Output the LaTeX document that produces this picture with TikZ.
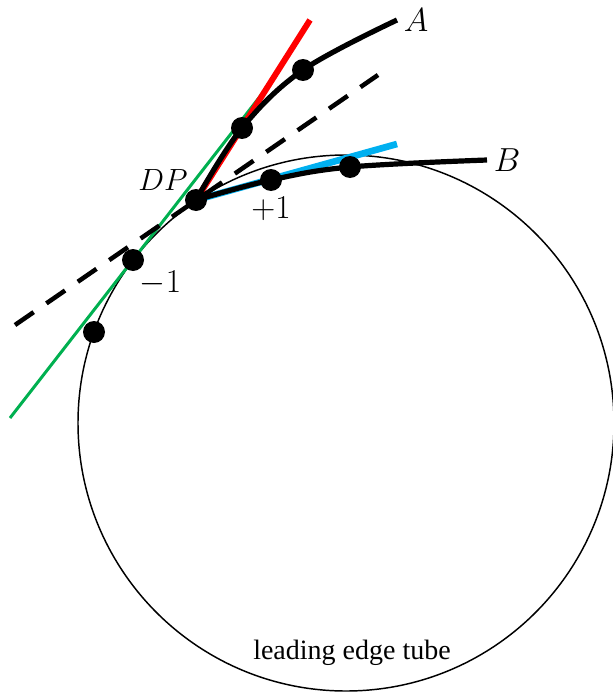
\documentclass[tikz,border=0pt]{standalone}
\usepackage{fix-cm}
\usepackage{fontspec}
\setmainfont{Liberation Serif}
\usepackage{tikz}
\usetikzlibrary{positioning,backgrounds}
\definecolor{tgreen}{RGB}{0,176,80}
\definecolor{tblue}{RGB}{0,176,240}

\begin{document}
\begin{tikzpicture}[x=0.75pt,y=-0.75pt,
dot/.style={circle,fill=black,inner sep=0pt,minimum size=16.5pt},
curve/.style={line width=3.9pt},
lbl/.style={font=\fontsize{23}{26}\selectfont,inner sep=1pt},
num/.style={font=\fontsize{25}{28}\selectfont,inner sep=1pt}]
\useasboundingbox (0,0) rectangle (613,692);
% points on the tube and on the two lines
\node[dot] (dp) at (196,200) {};
\node[dot] (m1) at (133,260) {};
\node[dot] (m2) at (94,332) {};
\node[dot] (a1) at (242,128) {};
\node[dot] (a2) at (303,70) {};
\node[dot] (p1) at (271,180) {};
\node[dot] (b1) at (350,167) {};
\coordinate (aend) at (397,20);
\coordinate (bend) at (487,160);
\coordinate (redend) at (310,20);
\coordinate (blueend) at (397,144);
\coordinate (glo) at (10,418);
\coordinate (ghi) at (265,90);
\coordinate (dlo) at (15,325);
\coordinate (dhi) at (378,75);
\begin{scope}[on background layer]
\draw[line width=1.1pt] (346,423) circle[radius=268];
\draw[tgreen,line width=2.25pt] (glo) -- (ghi);
\draw[red,line width=4.5pt] (dp.center) -- (redend);
\draw[tblue,line width=5pt] (dp.center) -- (blueend);
\draw[line width=3.4pt,dash pattern=on 17pt off 11.6pt] (dlo) -- (dhi);
\draw[curve] plot[smooth,tension=0.6] coordinates {(dp.center) (a1.center) (a2.center) (aend)};
\draw[curve] plot[smooth,tension=0.6] coordinates {(dp.center) (p1.center) (b1.center) (bend)};
\end{scope}
% labels
\node[num,right=4pt of aend] (la) {$A$};
\node[num,right=4pt of bend] (lb) {$B$};
\node[lbl,above left=0pt and -1pt of dp] (ldp) {$DP$};
\node[num,below=3pt of p1] (lp1) {$+1$};
\node[num,below right=1pt and -2pt of m1] (lm1) {$-1$};
\node[font=\fontsize{21}{24}\selectfont] (tube) at (352,653) {leading edge tube};
\end{tikzpicture}
\end{document}
